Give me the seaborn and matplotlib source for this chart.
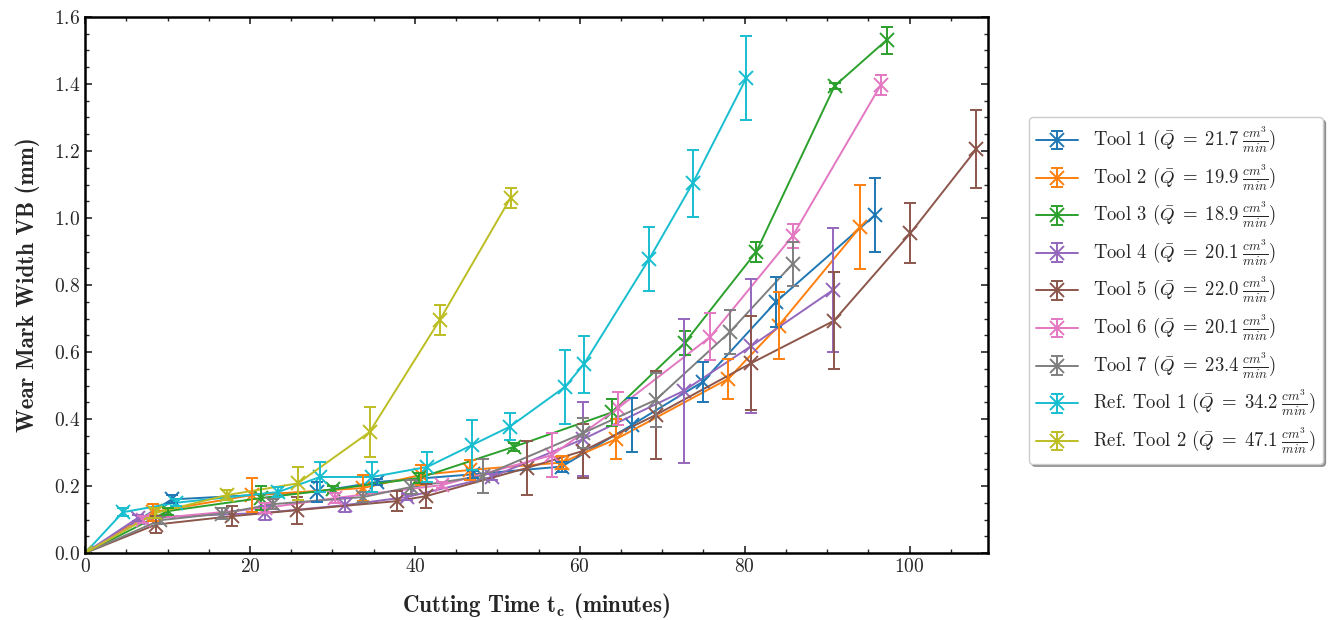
import numpy as np
import pandas as pd
import matplotlib
matplotlib.use("Agg")
import matplotlib.pyplot as plt
from matplotlib.lines import Line2D
from matplotlib.ticker import MultipleLocator
import seaborn as sns

# ── Data (cutting time in minutes, wear mark width VB in mm, error in mm)
t_tool1 = [0, 10.5, 28.1, 35.4, 47.0, 57.8, 66.3, 74.9, 83.8, 95.8]
vb_tool1 = [0, 0.160, 0.183, 0.212, 0.235, 0.258, 0.382, 0.511, 0.750, 1.009]
err_tool1 = [0, 0.012, 0.03, 0.01, 0.01, 0.015, 0.08, 0.06, 0.075, 0.11]

t_tool2 = [0, 8.2, 20.2, 33.7, 40.7, 46.7, 57.8, 64.4, 78.0, 84.1, 94.0]
vb_tool2 = [0, 0.122, 0.173, 0.194, 0.233, 0.248, 0.270, 0.340, 0.520, 0.678, 0.973]
err_tool2 = [0, 0.025, 0.05, 0.04, 0.03, 0.03, 0.02, 0.06, 0.06, 0.10, 0.125]

t_tool3 = [0, 10.0, 21.3, 30.1, 40.5, 52.0, 63.9, 72.7, 81.4, 90.9, 97.2]
vb_tool3 = [0, 0.125, 0.164, 0.190, 0.224, 0.317, 0.420, 0.627, 0.899, 1.394, 1.531]
err_tool3 = [0, 0.01, 0.035, 0.01, 0.015, 0.012, 0.04, 0.035, 0.03, 0.008, 0.04]

t_tool4 = [0, 6.4, 21.8, 31.5, 39.0, 49.3, 60.4, 72.6, 80.8, 90.7]
vb_tool4 = [0, 0.105, 0.120, 0.143, 0.167, 0.227, 0.340, 0.484, 0.618, 0.785]
err_tool4 = [0, 0.01, 0.02, 0.02, 0.01, 0.01, 0.11, 0.215, 0.20, 0.185]

t_tool5 = [0, 8.6, 17.8, 25.7, 37.8, 41.4, 53.6, 60.4, 69.2, 80.8, 90.8, 100.1, 108.1]
vb_tool5 = [0, 0.085, 0.110, 0.128, 0.155, 0.170, 0.254, 0.305, 0.412, 0.567, 0.693, 0.955, 1.206]
err_tool5 = [0, 0.025, 0.03, 0.04, 0.03, 0.035, 0.08, 0.08, 0.13, 0.14, 0.145, 0.09, 0.115]

t_tool6 = [0, 7.0, 21.8, 30.3, 43.3, 56.6, 64.6, 75.8, 85.8, 96.5]
vb_tool6 = [0, 0.100, 0.134, 0.164, 0.203, 0.292, 0.432, 0.645, 0.946, 1.397]
err_tool6 = [0, 0.01, 0.015, 0.015, 0.01, 0.065, 0.05, 0.07, 0.035, 0.03]

t_tool7 = [0, 9.1, 16.6, 22.8, 33.7, 39.5, 48.2, 60.4, 69.2, 78.2, 85.8]
vb_tool7 = [0, 0.098, 0.118, 0.146, 0.167, 0.197, 0.230, 0.358, 0.457, 0.660, 0.863]
err_tool7 = [0, 0.01, 0.015, 0.015, 0.015, 0.02, 0.05, 0.045, 0.08, 0.065, 0.065]

t_ref1 = [0, 4.6, 11.0, 23.4, 28.5, 34.8, 41.5, 46.9, 51.5, 58.2, 60.5, 68.4, 73.7, 80.2]
vb_ref1 = [0, 0.122, 0.150, 0.182, 0.227, 0.227, 0.257, 0.322, 0.377, 0.496, 0.564, 0.877, 1.104, 1.418]
err_ref1 = [0, 0.012, 0.01, 0.015, 0.045, 0.045, 0.045, 0.075, 0.04, 0.11, 0.085, 0.095, 0.10, 0.125]

t_ref2 = [0, 8.5, 17.2, 25.8, 34.5, 43.0, 51.6]
vb_ref2 = [0, 0.119, 0.173, 0.208, 0.361, 0.695, 1.060]
err_ref2 = [0, 0.015, 0.015, 0.05, 0.075, 0.045, 0.03]

tool_names = ["Tool 1", "Tool 2", "Tool 3", "Tool 4", "Tool 5", "Tool 6", "Tool 7",
              "Ref. Tool 1", "Ref. Tool 2"]
q_mean = [21.7, 19.9, 18.9, 20.1, 22.0, 20.1, 23.4, 34.2, 47.1]

series = [
    (t_tool1, vb_tool1, err_tool1), (t_tool2, vb_tool2, err_tool2),
    (t_tool3, vb_tool3, err_tool3), (t_tool4, vb_tool4, err_tool4),
    (t_tool5, vb_tool5, err_tool5), (t_tool6, vb_tool6, err_tool6),
    (t_tool7, vb_tool7, err_tool7), (t_ref1, vb_ref1, err_ref1),
    (t_ref2, vb_ref2, err_ref2),
]

rows = []
for name, (t, vb, err) in zip(tool_names, series):
    for a, b, c in zip(t, vb, err):
        rows.append({"tool": name, "time": a, "vb": b, "err": c})
df = pd.DataFrame(rows)

# ── Style
sns.set_theme(style="ticks")
plt.rcParams["font.family"] = "serif"
plt.rcParams["font.serif"] = ["cmr10", "DejaVu Serif"]
plt.rcParams["mathtext.fontset"] = "cm"
plt.rcParams["axes.formatter.use_mathtext"] = True
plt.rcParams["axes.unicode_minus"] = False

# tab10 without red, ref tools take cyan then olive
tab = sns.color_palette("tab10", 10)
colors = [tab[i] for i in [0, 1, 2, 4, 5, 6, 7, 9, 8]]

fig = plt.figure(figsize=(13.29, 6.2), dpi=100)
ax = fig.add_axes([0.064, 0.108, 0.6794, 0.8646])

sns.lineplot(data=df, x="time", y="vb", hue="tool", hue_order=tool_names,
             palette=colors, estimator=None, sort=False, marker="x",
             markersize=10, markeredgewidth=1.4, linewidth=1.4, legend=False, ax=ax)
for line in ax.lines:
    line.set_markeredgecolor(line.get_color())

handles = []
labels = []
for name, q, c, (t, vb, err) in zip(tool_names, q_mean, colors, series):
    eb = ax.errorbar(t, vb, yerr=err, fmt="none", ecolor=c, elinewidth=1.4,
                     capsize=4, capthick=1.4)
    proxy = Line2D([], [], color=c, marker="x", markersize=10,
                   markeredgewidth=1.4, linewidth=1.4)
    handles.append((proxy, eb))
    labels.append(name + r" ($\bar{Q}\;=\;%.1f\;\frac{cm^3}{min}$)" % q)

ax.set_xlim(0, 109.5)
ax.set_ylim(0, 1.6)
ax.xaxis.set_major_locator(MultipleLocator(20))
ax.xaxis.set_minor_locator(MultipleLocator(5))
ax.yaxis.set_major_locator(MultipleLocator(0.2))
ax.yaxis.set_minor_locator(MultipleLocator(0.05))
ax.tick_params(which="both", direction="in", top=True, right=True, labelsize=14)
ax.tick_params(which="major", length=5, width=1.2)
ax.tick_params(which="minor", length=3, width=1.0)
for s in ax.spines.values():
    s.set_linewidth(1.8)
    s.set_color("black")

ax.set_xlabel(r"Cutting Time $\mathbf{t_c}$ (minutes)", family="cmb10", fontsize=16.5, labelpad=11)
ax.set_ylabel("Wear Mark Width VB (mm)", family="cmb10", fontsize=16.5, labelpad=10)

leg = ax.legend(handles, labels, loc="center left", bbox_to_anchor=(1.035, 0.49),
                fontsize=13.5, frameon=True, fancybox=True, shadow=True,
                handlelength=2.2, labelspacing=0.4)
leg.get_frame().set_edgecolor("0.8")

fig.savefig("out.png", dpi=100)
